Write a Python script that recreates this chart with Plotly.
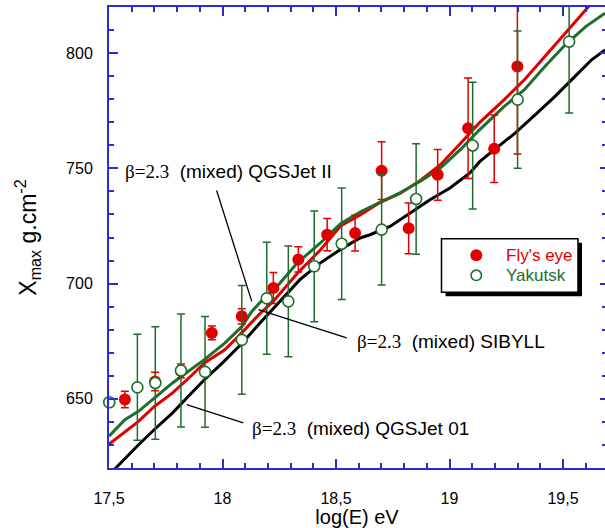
import numpy as np
import plotly.graph_objects as go

# ---- Model curves: Xmax vs log10(E), beta=2.3 mixed composition ----
qgsjet2_x = [17.50, 17.57, 17.63, 17.70, 17.78, 17.82, 17.92, 18.01, 18.085, 18.13,
             18.195, 18.225, 18.33, 18.43, 18.52, 18.61, 18.69, 18.78, 18.87, 18.96,
             19.05, 19.13, 19.24, 19.33, 19.42, 19.51, 19.60, 19.685]
qgsjet2_y = [633.8, 641.0, 644.6, 650.4, 656.9, 659.8, 667.0, 674.2, 681.3, 688.0,
             695.0, 697.0, 709.0, 717.5, 726.0, 731.3, 735.0, 739.3, 744.3, 750.1,
             758.3, 766.5, 776.8, 784.1, 794.2, 803.6, 811.5, 817.3]

sibyll_x = [17.50, 17.556, 17.63, 17.70, 17.78, 17.86, 17.92, 18.01, 18.07, 18.16,
            18.225, 18.33, 18.43, 18.52, 18.61, 18.69, 18.78, 18.87, 18.96, 19.05,
            19.13, 19.24, 19.33, 19.42, 19.51, 19.60, 19.62]
sibyll_y = [630.3, 634.5, 640.2, 646.7, 652.6, 659.8, 665.6, 671.3, 677.1, 686.5,
            692.5, 704.5, 714.5, 725.0, 730.0, 735.0, 739.0, 744.6, 751.6, 761.0,
            769.6, 779.7, 788.4, 798.5, 808.7, 818.8, 821.0]

qgsjet01_x = [17.52, 17.63, 17.70, 17.78, 17.85, 17.92, 18.00, 18.085, 18.165, 18.253,
              18.341, 18.43, 18.518, 18.606, 18.65, 18.738, 18.826, 18.914, 19.002, 19.09,
              19.134, 19.20, 19.289, 19.377, 19.465, 19.553, 19.626, 19.685]
qgsjet01_y = [619.0, 630.1, 636.7, 643.9, 651.1, 658.3, 665.6, 674.0, 682.9, 692.3,
              701.7, 708.9, 714.7, 719.8, 721.2, 724.8, 730.6, 736.4, 741.5, 748.0,
              753.0, 758.1, 765.3, 773.2, 781.2, 789.9, 797.1, 801.4]

# ---- Measurements ----
flys_x = [17.57, 17.703, 17.817, 17.953, 18.085, 18.224, 18.334, 18.461, 18.584,
          18.701, 18.82, 18.948, 19.082, 19.197, 19.299]
flys_y = [649.7, 657.5, 662.1, 678.6, 685.8, 698.1, 710.5, 721.2, 721.9,
          749.0, 724.0, 747.2, 767.4, 758.5, 794.2]
flys_err = [3.6, 4.0, 3.0, 3.0, 3.3, 6.7, 5.5, 7.0, 7.8,
            12.5, 11.0, 11.0, 21.8, 14.6, 38.0]

yak_x = [17.501, 17.625, 17.704, 17.817, 17.923, 18.085, 18.195, 18.29, 18.404,
         18.525, 18.701, 18.853, 19.102, 19.30, 19.527]
yak_y = [648.5, 655.0, 656.9, 662.3, 661.7, 675.6, 693.6, 692.3, 707.5,
         717.3, 723.4, 736.7, 759.9, 779.8, 805.0]
yak_err = [0.0, 23.0, 24.4, 24.5, 24.0, 23.6, 24.3, 24.0, 24.0,
           24.2, 24.0, 24.0, 27.5, 29.8, 31.0]

legend_names = ["Fly's eye", "Yakutsk"]

RED = "#e00000"
GREEN = "#1d6e2c"
AXIS_BLUE = "#2c2cd6"
SANS = "Liberation Sans, Arial, sans-serif"
SERIF = "Liberation Serif, Times New Roman, serif"

# plot-area geometry in pixels (used to place the boxed key)
FIG_W, FIG_H = 605, 528
M_L, M_R, M_T, M_B = 109, 0, 7, 60
PLOT_W = FIG_W - M_L - M_R
PLOT_H = FIG_H - M_T - M_B


def px_to_paper(px, py):
    return (px - M_L) / PLOT_W, (FIG_H - M_B - py) / PLOT_H


fig = go.Figure()

# model curves (drawn below the data points)
fig.add_trace(go.Scatter(x=qgsjet01_x, y=qgsjet01_y, mode="lines",
                         line=dict(color="black", width=3), showlegend=False,
                         hoverinfo="skip"))
fig.add_trace(go.Scatter(x=sibyll_x, y=sibyll_y, mode="lines",
                         line=dict(color=RED, width=3), showlegend=False,
                         hoverinfo="skip"))
fig.add_trace(go.Scatter(x=qgsjet2_x, y=qgsjet2_y, mode="lines",
                         line=dict(color=GREEN, width=3), showlegend=False,
                         hoverinfo="skip"))

# data with error bars
fig.add_trace(go.Scatter(
    x=flys_x, y=flys_y, mode="markers", name=legend_names[0], showlegend=False,
    marker=dict(symbol="circle", size=12, color=RED, line=dict(width=0)),
    error_y=dict(type="data", array=flys_err, visible=True, color=RED,
                 thickness=1.5, width=4),
))
fig.add_trace(go.Scatter(
    x=yak_x, y=yak_y, mode="markers", name=legend_names[1], showlegend=False,
    cliponaxis=False,
    marker=dict(symbol="circle", size=11, color="white",
                line=dict(width=1.6, color=GREEN)),
    error_y=dict(type="data", array=yak_err, visible=True, color=GREEN,
                 thickness=1.5, width=4),
))

# invisible companion axis carrying the right-hand ticks
fig.add_trace(go.Scatter(x=[17.6], y=[700], yaxis="y2", mode="markers",
                         marker=dict(opacity=0), showlegend=False,
                         hoverinfo="skip"))


# curve labels with leader lines
def beta_label(model):
    return (f"<span style='font-family:{SERIF}'>β=2.3</span>"
            f"  (mixed) {model}")


labels = [
    ("QGSJet II", 17.563, 748.7, (17.974, 740.4), (18.129, 692.3)),
    ("SIBYLL", 18.584, 675.0, (18.158, 688.7), (18.547, 676.5)),
    ("QGSJet 01", 18.121, 637.1, (17.842, 647.5), (18.092, 639.6)),
]
for text, tx, ty, p0, p1 in labels:
    fig.add_annotation(x=tx, y=ty, xref="x", yref="y", text=beta_label(text),
                       showarrow=False, xanchor="left", yanchor="middle",
                       font=dict(family=SANS, size=19, color="black"))
    fig.add_shape(type="line", xref="x", yref="y", x0=p0[0], y0=p0[1],
                  x1=p1[0], y1=p1[1], line=dict(color="black", width=1.3))

# boxed key with drop shadow
bx0, by0 = px_to_paper(441.5, 238.7)
bx1, by1 = px_to_paper(578.0, 292.3)
sx0, sy0 = px_to_paper(445.5, 242.7)
sx1, sy1 = px_to_paper(582.0, 296.3)
fig.add_shape(type="rect", xref="paper", yref="paper",
              x0=sx0, x1=sx1, y0=sy1, y1=sy0,
              fillcolor="black", line=dict(width=0), layer="above")
fig.add_shape(type="rect", xref="paper", yref="paper",
              x0=bx0, x1=bx1, y0=by1, y1=by0,
              fillcolor="white", line=dict(color="black", width=1.5),
              layer="above")

key_styles = [
    dict(fillcolor=RED, line=dict(width=0), r=6.0),
    dict(fillcolor="white", line=dict(color=GREEN, width=1.6), r=5.2),
]
key_colors = [RED, GREEN]
for i, (name, st) in enumerate(zip(legend_names, key_styles)):
    cy = 255.3 + 20 * i
    mx, my = px_to_paper(476.3, cy)
    r = st["r"]
    fig.add_shape(type="circle", xref="paper", yref="paper",
                  xsizemode="pixel", ysizemode="pixel",
                  xanchor=mx, yanchor=my, x0=-r, x1=r, y0=-r, y1=r,
                  fillcolor=st["fillcolor"], line=st["line"], layer="above")
    tx, ty = px_to_paper(503.5, cy)
    fig.add_annotation(x=tx, y=ty, xref="paper", yref="paper", text=name,
                       showarrow=False, xanchor="left", yanchor="middle",
                       font=dict(family=SANS, size=17, color=key_colors[i]))

tick_font = dict(family=SANS, size=16, color="black")
fig.update_layout(
    width=FIG_W, height=FIG_H,
    margin=dict(l=M_L, r=M_R, t=M_T, b=M_B),
    paper_bgcolor="white", plot_bgcolor="white",
    separators=",.",
    font=dict(family=SANS, color="black"),
    showlegend=False,
    xaxis=dict(
        range=[17.5, 19.685], tick0=17.5, dtick=0.5,
        ticks="inside", ticklen=9, tickwidth=1.5, tickcolor=AXIS_BLUE,
        minor=dict(dtick=0.1, ticks="inside", ticklen=5, tickwidth=1.5,
                   tickcolor=AXIS_BLUE, showgrid=False),
        showline=True, linecolor=AXIS_BLUE, linewidth=2, mirror="ticks",
        showgrid=False, zeroline=False, tickfont=tick_font,
        ticklabelstandoff=15,
        title=dict(text="log(E) eV", font=dict(family=SANS, size=20),
                   standoff=2),
    ),
    yaxis=dict(
        range=[620, 820], tick0=650, dtick=50,
        ticks="inside", ticklen=9, tickwidth=1.5, tickcolor=AXIS_BLUE,
        minor=dict(dtick=10, ticks="inside", ticklen=5, tickwidth=1.5,
                   tickcolor=AXIS_BLUE, showgrid=False),
        showline=True, linecolor=AXIS_BLUE, linewidth=2, mirror=False,
        showgrid=False, zeroline=False, tickfont=tick_font,
        ticklabelstandoff=11,
        title=dict(text="X<sub>max</sub> g.cm<sup>-2</sup>",
                   font=dict(family=SANS, size=23), standoff=23),
    ),
    yaxis2=dict(
        overlaying="y", side="right", anchor="x",
        range=[620, 820], tick0=650, dtick=50,
        ticks="inside", ticklen=5, tickwidth=1.5, tickcolor=AXIS_BLUE,
        minor=dict(dtick=10, ticks="inside", ticklen=3, tickwidth=1.5,
                   tickcolor=AXIS_BLUE, showgrid=False),
        showline=False, showgrid=False, zeroline=False,
        showticklabels=False,
    ),
)

fig.write_html("out.html")
